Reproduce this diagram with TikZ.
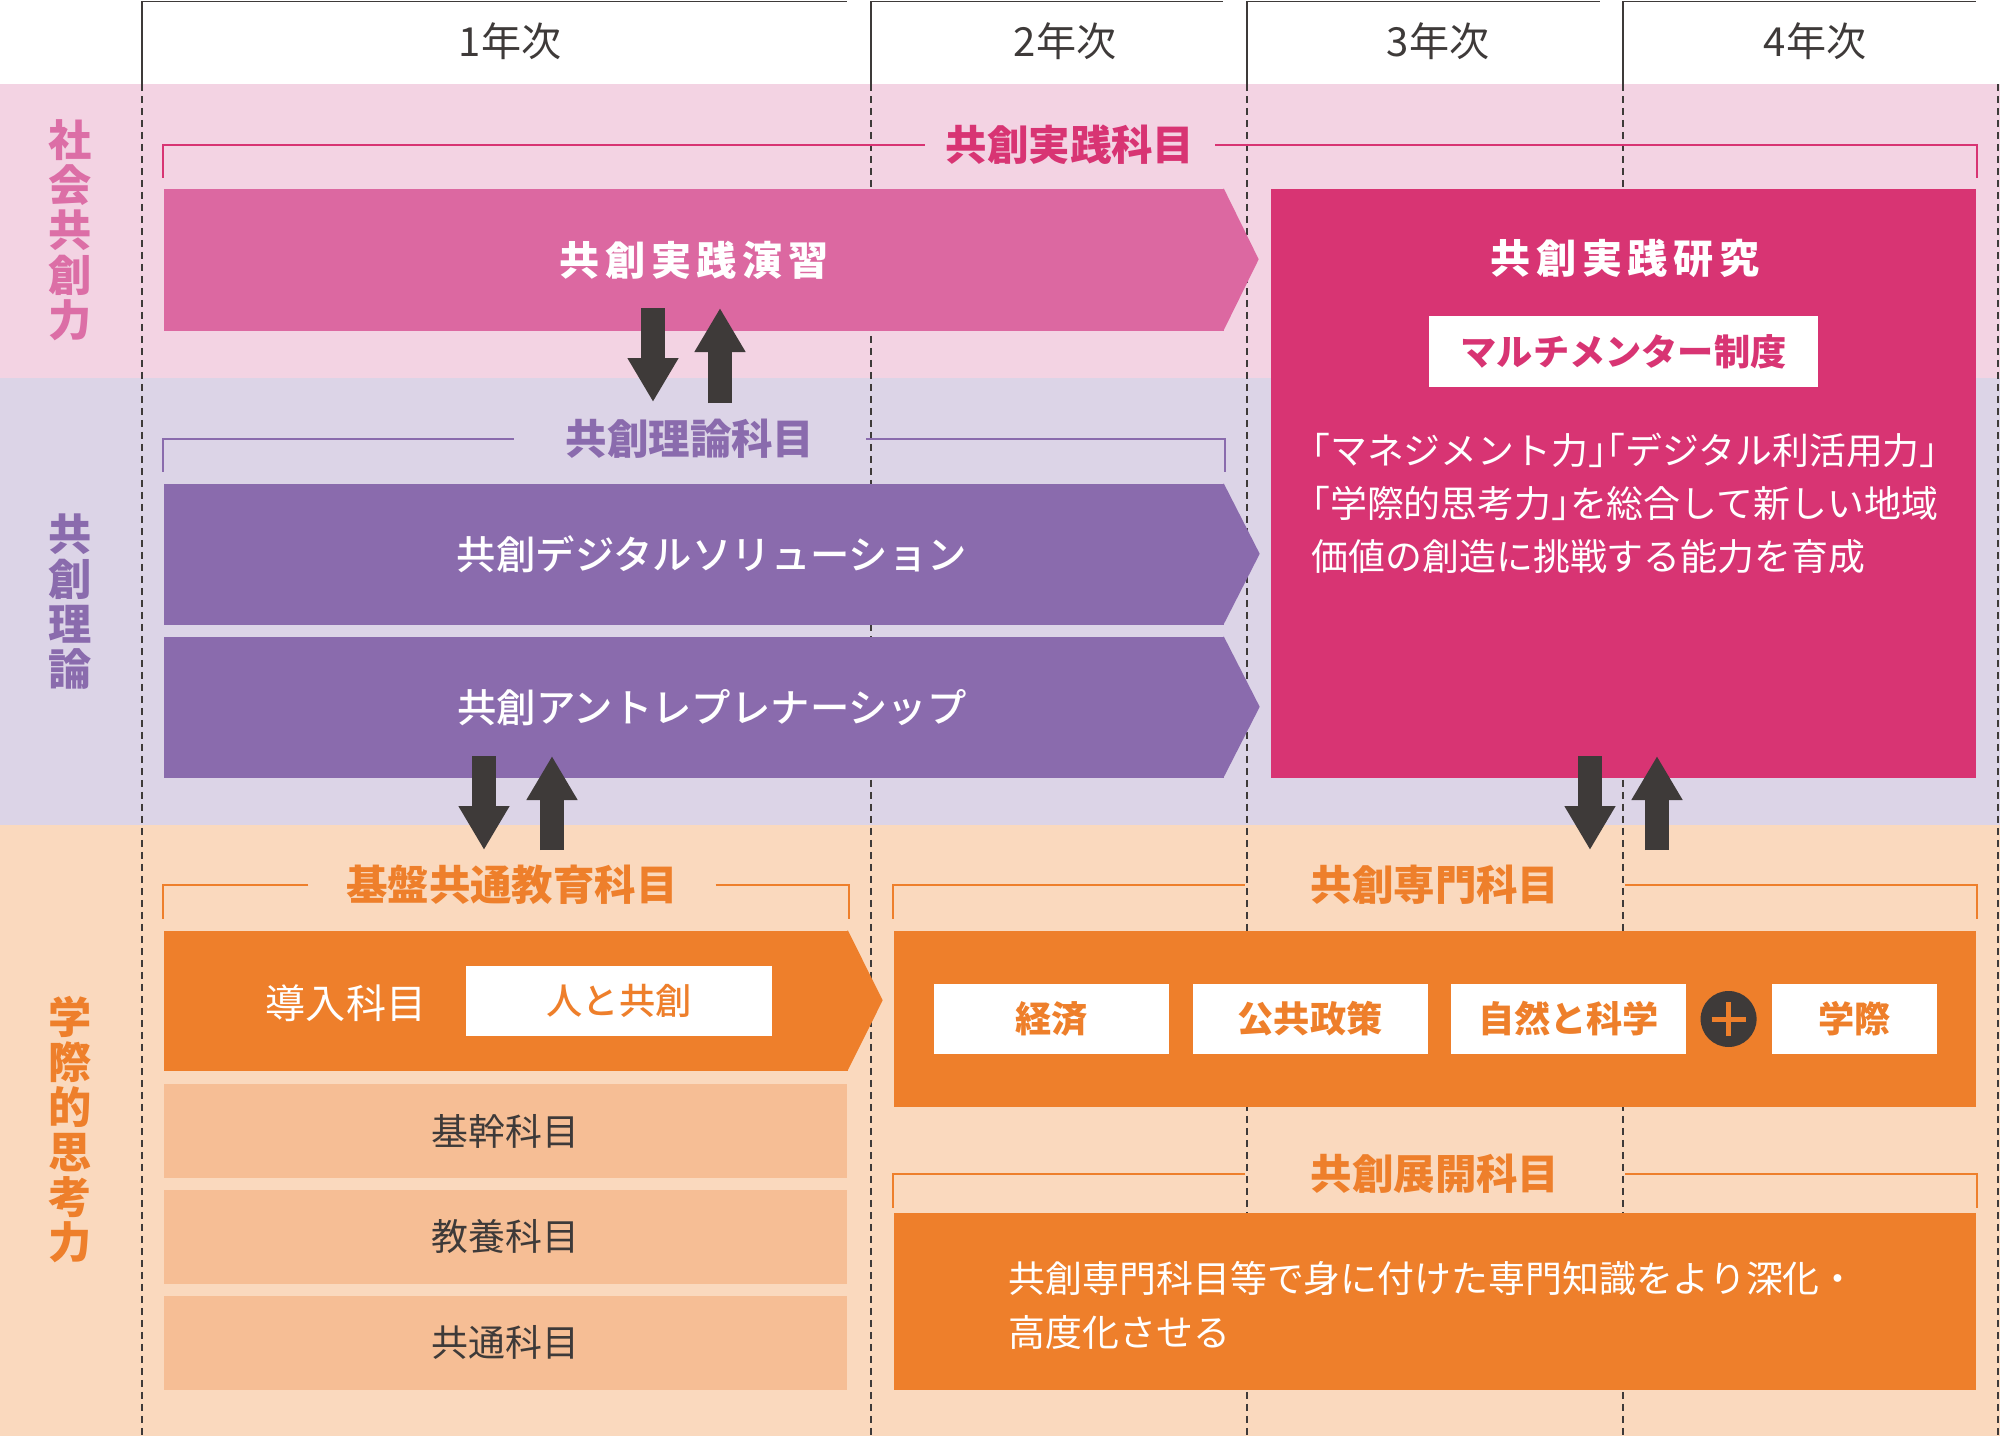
\documentclass[tikz,border=0pt]{standalone}
\usepackage{fontspec}
\setmainfont{Noto Sans CJK JP}
\IfFontExistsTF{Noto Sans CJK JP Medium}
    {\newfontfamily\jpmedium{Noto Sans CJK JP Medium}}
    {\newcommand{\jpmedium}{\bfseries}}
\usepackage{tikz}
\usetikzlibrary{arrows.meta, positioning}

\definecolor{ink}{HTML}{3E3A39}
\definecolor{bandpink}{HTML}{F3D3E3}
\definecolor{bandlav}{HTML}{DCD4E7}
\definecolor{bandpeach}{HTML}{FAD9BE}
\definecolor{rosepink}{HTML}{DC68A1}
\definecolor{deeppink}{HTML}{D83473}
\definecolor{labelpink}{HTML}{DC6EA6}
\definecolor{purplebox}{HTML}{8A6BAD}
\definecolor{tangerine}{HTML}{EE7F2B}
\definecolor{apricot}{HTML}{F6BE95}

% half-width brackets
\newcommand{\hw}[1]{{\addfontfeature{CharacterWidth=AlternateHalf}#1}}

\begin{document}
\begin{tikzpicture}[
    x=0.1mm, y=-0.1mm,
    yearlabel/.style={text=ink, font=\fontsize{11.4}{13}\selectfont},
    sidelabel/.style={align=center, font=\bfseries\fontsize{12.3}{12.8}\selectfont},
    grouptitle/.style={font=\bfseries\fontsize{11.8}{13}\selectfont, inner ysep=0pt},
    bracket_style/.style={line width=0.6pt},
    grid_style/.style={draw=ink, line width=0.4pt, dash pattern=on 0.7mm off 0.5mm},
    head_style/.style={draw=ink, line width=0.5pt},
    flowbox/.style={rectangle, inner sep=0pt, text=white, minimum width=106mm, font=\jpmedium\fontsize{11.2}{13}\selectfont},
    spaced/.style={font=\bfseries\fontsize{11.4}{13}\selectfont\addfontfeature{LetterSpace=14}},
    tag/.style={rectangle, fill=white, inner sep=0pt, minimum height=7mm, font=\bfseries\fontsize{10.3}{12}\selectfont},
    subject/.style={rectangle, fill=apricot, inner sep=0pt, minimum width=68.3mm, minimum height=9.4mm, text=ink, font=\fontsize{10.5}{12}\selectfont},
    desc/.style={text=white, align=left, inner sep=0pt},
    updown/.style={draw=ink, line width=2.4mm, -{Triangle[length=4.4mm, width=4.8mm]}}
]
\useasboundingbox (0,0) rectangle (2000,1436);

% Bands
\fill[bandpink] (0,84) rectangle (2000,378);
\fill[bandlav] (0,378) rectangle (2000,825);
\fill[bandpeach] (0,825) rectangle (2000,1436);

% Year header
\draw[head_style] (142,84) |- (847,1.5);
\draw[head_style] (871,84) |- (1223,1.5);
\draw[head_style] (1247,84) |- (1600,1.5);
\draw[head_style] (1623,84) |- (1976,1.5);
\node[yearlabel] (y1) at (510,41) {1年次};
\node[yearlabel] (y2) at (1065,41) {2年次};
\node[yearlabel] (y3) at (1438,41) {3年次};
\node[yearlabel] (y4) at (1815,41) {4年次};

% Year grid
\foreach \x in {142,871,1247,1623,1998}
    \draw[grid_style] (\x,84) -- (\x,1436);

% Side labels
\node[sidelabel, text=labelpink] (social) at (70,230) {社\\会\\共\\創\\力};
\node[sidelabel, text=purplebox] (theory) at (70,602) {共\\創\\理\\論};
\node[sidelabel, text=tangerine] (inter) at (70,1130) {学\\際\\的\\思\\考\\力};

% Practice
\node[flowbox, fill=rosepink, minimum height=14.2mm, spaced] (ensyu) at (694,260) {共創実践演習};
\fill[rosepink] (ensyu.north east) ++(-1,0) -- ++(35,71) -- ++(-35,71) -- cycle;
\node[rectangle, fill=deeppink, inner sep=0pt, minimum width=70.5mm, minimum height=58.9mm] (kenkyu) at (1623.5,483.5) {};
\node[text=white, spaced] (kenkyuT) at (1625,258) {共創実践研究};
\node[tag, text=deeppink, minimum width=38.9mm, minimum height=7.1mm] (mentor) at (1623.5,351.5) {マルチメンター制度};
\node[desc, anchor=west, font=\fontsize{10.5}{15.1}\selectfont] (aim) at (1311,503)
    {\hw{「}マネジメント力\hw{」「}デジタル利活用力\hw{」}\\\hw{「}学際的思考力\hw{」}を総合して新しい地域\\価値の創造に挑戦する能力を育成};
\node[grouptitle, text=deeppink, inner xsep=2mm] (jissenT) at (1070,145) {共創実践科目};
\draw[bracket_style, draw=deeppink, shorten >=1mm] (jissenT.west) -| (ensyu.north west);
\draw[bracket_style, draw=deeppink, shorten >=1mm] (jissenT.east) -| (kenkyu.north east);

% Theory
\node[flowbox, fill=purplebox, minimum height=14.1mm] (digital) at (694,554.5) {\hspace*{3.6mm}共創デジタルソリューション};
\fill[purplebox] (digital.north east) ++(-1,0) -- ++(36,70.5) -- ++(-36,70.5) -- cycle;
\node[flowbox, fill=purplebox, minimum height=14.1mm] (entre) at (694,707.5) {\hspace*{3.6mm}共創アントレプレナーシップ};
\fill[purplebox] (entre.north east) ++(-1,0) -- ++(36,70.5) -- ++(-36,70.5) -- cycle;
\node[grouptitle, text=purplebox, inner xsep=5.1mm] (rironT) at (690,439) {共創理論科目};
\draw[bracket_style, draw=purplebox, shorten >=1.1mm] (rironT.west) -| (digital.north west);
\draw[bracket_style, draw=purplebox, shorten >=1.1mm] (rironT.east) -| (digital.north east);

% Foundation
\node[rectangle, fill=tangerine, inner sep=0pt, minimum width=68.4mm, minimum height=14.05mm] (intro) at (506,1001) {};
\fill[tangerine] (intro.north east) ++(-1,0) -- ++(35,70.25) -- ++(-35,70.25) -- cycle;
\node[text=white, font=\fontsize{11.4}{13}\selectfont] (dounyu) at (346,1003) {導入科目};
\node[tag, text=tangerine, minimum width=30.6mm, font=\jpmedium\fontsize{10.3}{12}\selectfont] (hito) at (619,1001) {人と共創};
\node[subject] (kikan) at (505.5,1131) {基幹科目};
\node[subject] (kyoyo) at (505.5,1236.5) {教養科目};
\node[subject] (kyotsu) at (505.5,1342.5) {共通科目};
\node[grouptitle, text=tangerine, inner xsep=3.7mm] (kibanT) at (512,885) {基盤共通教育科目};
\draw[bracket_style, draw=tangerine, shorten >=1.1mm] (kibanT.west) -| (intro.north west);
\draw[bracket_style, draw=tangerine, shorten >=1.1mm] (kibanT.east) -| (intro.north east);

% Specialised
\node[rectangle, fill=tangerine, inner sep=0pt, minimum width=108.2mm, minimum height=17.6mm] (senmon) at (1435,1019) {};
\node[tag, text=tangerine, minimum width=23.5mm] (keizai) at (1051.5,1019) {経済};
\node[tag, text=tangerine, minimum width=23.5mm] (kokyo) at (1310,1019) {公共政策};
\node[tag, text=tangerine, minimum width=23.5mm] (shizen) at (1568.5,1019) {自然と科学};
\node[circle, fill=ink, inner sep=0pt, minimum size=5.6mm] (plus) at (1728.6,1019) {};
\draw[tangerine, line width=0.5mm] ([xshift=-1.7mm]plus.center) -- ([xshift=1.7mm]plus.center);
\draw[tangerine, line width=0.5mm] ([yshift=-1.7mm]plus.center) -- ([yshift=1.7mm]plus.center);
\node[tag, text=tangerine, minimum width=16.5mm] (gakusai) at (1854.5,1019) {学際};
\node[grouptitle, text=tangerine, inner xsep=6.5mm] (senmonT) at (1435,885) {共創専門科目};
\draw[bracket_style, draw=tangerine, shorten >=1.1mm] (senmonT.west) -| (senmon.north west);
\draw[bracket_style, draw=tangerine, shorten >=1.1mm] (senmonT.east) -| (senmon.north east);

% Development
\node[rectangle, fill=tangerine, inner sep=0pt, minimum width=108.2mm, minimum height=17.7mm] (tenkai) at (1435,1301.5) {};
\node[desc, anchor=west, font=\fontsize{10.5}{15.6}\selectfont] (deepen) at (1008,1305.5) {共創専門科目等で身に付けた専門知識をより深化・\\高度化させる};
\node[grouptitle, text=tangerine, inner xsep=6.5mm] (tenkaiT) at (1435,1174) {共創展開科目};
\draw[bracket_style, draw=tangerine, shorten >=0.4mm] (tenkaiT.west) -| (tenkai.north west);
\draw[bracket_style, draw=tangerine, shorten >=0.4mm] (tenkaiT.east) -| (tenkai.north east);

% Up and down arrows
\coordinate (a1) at (653,308);
\coordinate (a2) at (653,402);
\coordinate (b1) at (720,403);
\coordinate (b2) at (720,308);
\coordinate (c1) at (484,756);
\coordinate (c2) at (484,850);
\coordinate (d1) at (552,850);
\coordinate (d2) at (552,756);
\coordinate (e1) at (1590,756);
\coordinate (e2) at (1590,850);
\coordinate (f1) at (1657,850);
\coordinate (f2) at (1657,756);
\draw[updown] (a1) -- (a2);
\draw[updown] (b1) -- (b2);
\draw[updown] (c1) -- (c2);
\draw[updown] (d1) -- (d2);
\draw[updown] (e1) -- (e2);
\draw[updown] (f1) -- (f2);

\end{tikzpicture}
\end{document}
